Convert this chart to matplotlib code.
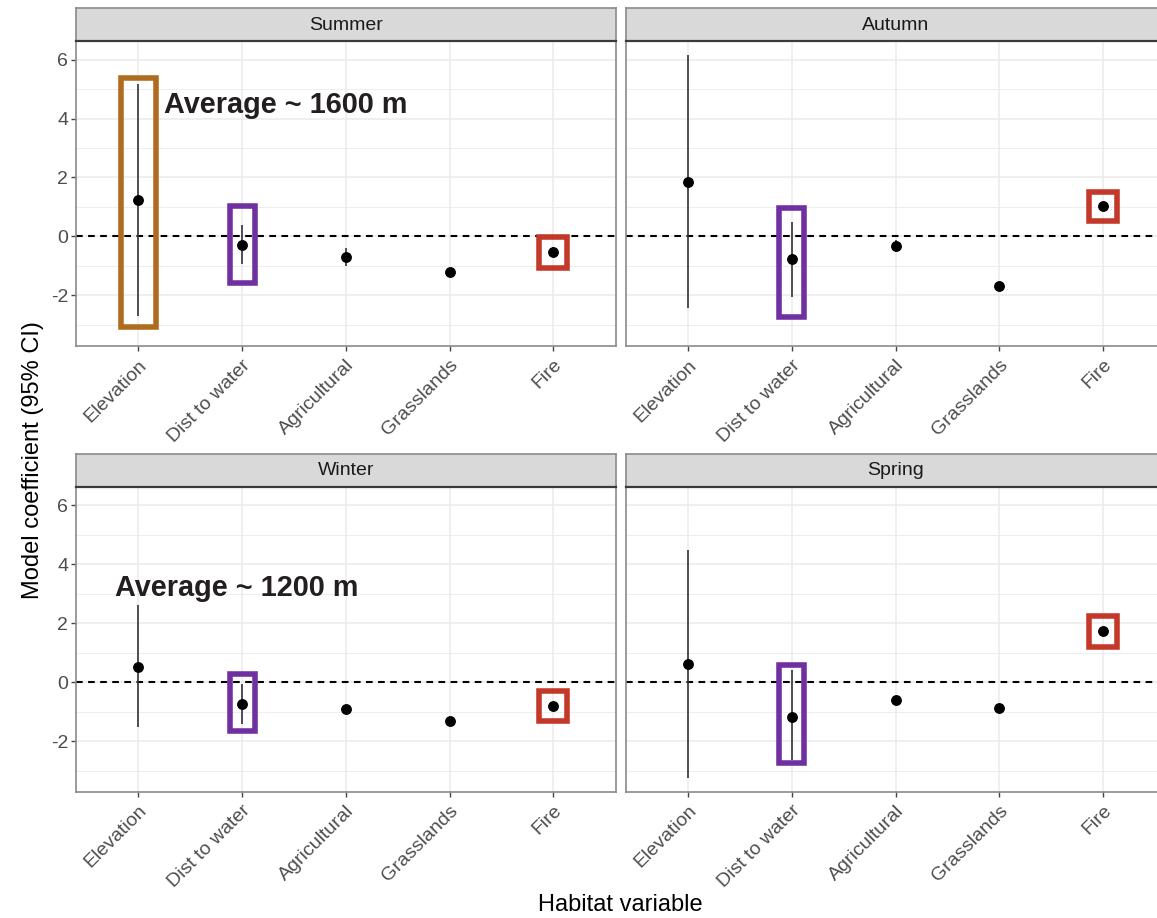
import matplotlib
matplotlib.use("Agg")
import matplotlib.pyplot as plt
from matplotlib.patches import Rectangle

plt.rcParams['font.family'] = ['Liberation Sans', 'DejaVu Sans']
plt.rcParams['axes.unicode_minus'] = False

# habitat variables (x axis) and seasons (facets)
categories = ['Elevation', 'Dist to water', 'Agricultural', 'Grasslands', 'Fire']
seasons = ['Summer', 'Autumn', 'Winter', 'Spring']

# model coefficients with 95% CI per season
summer_est = [1.23, -0.28, -0.71, -1.22, -0.54]
summer_lo = [-2.70, -0.94, -1.00, -1.27, -0.71]
summer_hi = [5.16, 0.37, -0.41, -1.17, -0.35]

autumn_est = [1.86, -0.78, -0.34, -1.68, 1.03]
autumn_lo = [-2.44, -2.07, -0.54, -1.73, 0.96]
autumn_hi = [6.17, 0.48, -0.12, -1.63, 1.10]

winter_est = [0.53, -0.74, -0.91, -1.32, -0.80]
winter_lo = [-1.52, -1.41, -0.96, -1.37, -0.86]
winter_hi = [2.61, -0.07, -0.86, -1.27, -0.74]

spring_est = [0.61, -1.18, -0.59, -0.89, 1.72]
spring_lo = [-3.25, -2.63, -0.67, -0.94, 1.65]
spring_hi = [4.49, 0.41, -0.51, -0.84, 1.79]

est = {'Summer': summer_est, 'Autumn': autumn_est, 'Winter': winter_est, 'Spring': spring_est}
lo = {'Summer': summer_lo, 'Autumn': autumn_lo, 'Winter': winter_lo, 'Spring': spring_lo}
hi = {'Summer': summer_hi, 'Autumn': autumn_hi, 'Winter': winter_hi, 'Spring': spring_hi}

# highlight boxes: season, category index, y bottom, y top, half width
box_season = ['Summer', 'Summer', 'Summer', 'Autumn', 'Autumn', 'Winter', 'Winter', 'Spring', 'Spring']
box_cat = [0, 1, 4, 1, 4, 1, 4, 1, 4]
box_ylo = [-3.09, -1.59, -1.06, -2.75, 0.51, -1.66, -1.32, -2.73, 1.19]
box_yhi = [5.37, 1.03, -0.02, 0.95, 1.52, 0.27, -0.29, 0.57, 2.23]
box_hw = [0.171, 0.12, 0.135, 0.12, 0.135, 0.12, 0.135, 0.12, 0.135]
box_col = ['#B06C1E', '#7030A0', '#C4382A', '#7030A0', '#C4382A',
           '#7030A0', '#C4382A', '#7030A0', '#C4382A']

# text notes on elevation
note_season = ['Summer', 'Winter']
note_text = ['Average ~ 1600 m', 'Average ~ 1200 m']
note_x = [0.25, -0.22]
note_y = [4.20, 2.94]

W, H = 1157, 918
fig = plt.figure(figsize=(W / 100, H / 100), dpi=100)

# panel geometry in pixels: left, top of plot area
col_left = [76, 625.7]
row_top = [40.7, 486.5]
pw, ph, sh = 539.7, 305.3, 32.4

all_lo = min(min(v) for v in lo.values())
all_hi = max(max(v) for v in hi.values())
pad = 0.05 * (all_hi - all_lo)
ylim = (all_lo - pad, all_hi + pad)
xs = list(range(len(categories)))

border = '#8a8a8a'

for k, s in enumerate(seasons):
    r, c = divmod(k, 2)
    x0, y0 = col_left[c], row_top[r]
    ax = fig.add_axes([x0 / W, 1 - (y0 + ph) / H, pw / W, ph / H])
    ax.set_xlim(-0.6, len(categories) - 0.4)
    ax.set_ylim(*ylim)
    ax.set_yticks([-2, 0, 2, 4, 6])
    ax.set_yticks([-3, -1, 1, 3, 5], minor=True)
    ax.set_xticks(xs)
    ax.grid(which='major', color='#ebebeb', lw=1.1, zorder=0)
    ax.grid(which='minor', axis='y', color='#ebebeb', lw=0.6, zorder=0)
    ax.set_axisbelow(True)
    for sp in ax.spines.values():
        sp.set_color(border)
        sp.set_linewidth(1.2)
    ax.tick_params(axis='both', which='major', length=3.5, width=1.0, color='#444444',
                   labelcolor='#4d4d4d')
    ax.tick_params(axis='both', which='minor', length=0)
    ax.tick_params(axis='y', labelsize=14, pad=2)
    ax.set_xticklabels(categories, rotation=45, ha='right', va='top',
                       rotation_mode='anchor', fontsize=14)
    ax.tick_params(axis='x', pad=4)
    if c == 1:
        ax.tick_params(axis='y', left=False, labelleft=False)

    ax.axhline(0, color='black', lw=1.5, ls=(0, (3.2, 2.6)), zorder=2)
    ax.vlines(xs, lo[s], hi[s], color='#333333', lw=1.2, zorder=3)
    ax.plot(xs, est[s], 'o', color='black', ms=6.8, zorder=4)

    for bs, bc, bl, bh, hw, col in zip(box_season, box_cat, box_ylo, box_yhi, box_hw, box_col):
        if bs != s:
            continue
        ax.add_patch(Rectangle((bc - hw, bl), 2 * hw, bh - bl, fill=False,
                               edgecolor=col, lw=4.0, joinstyle='miter', zorder=5))

    for ns, nt, nx, ny in zip(note_season, note_text, note_x, note_y):
        if ns == s:
            ax.text(nx, ny, nt, fontsize=20.8, fontweight='bold', color='#231f20',
                    ha='left', va='baseline', zorder=6)

    # facet strip
    st = fig.add_axes([x0 / W, 1 - y0 / H, pw / W, sh / H])
    st.set_facecolor('#d9d9d9')
    st.set_xticks([])
    st.set_yticks([])
    for name, sp in st.spines.items():
        sp.set_color(border)
        sp.set_linewidth(1.2)
    st.spines['bottom'].set_color('#3a3a3a')
    st.spines['bottom'].set_linewidth(1.6)
    st.text(0.5, 0.48, s, transform=st.transAxes, ha='center', va='center',
            fontsize=14, color='#1a1a1a')

fig.text(33 / W, 1 - 460 / H, 'Model coefficient (95% CI)', rotation=90,
         ha='center', va='center', fontsize=17, color='black')
fig.text(620 / W, 1 - 905 / H, 'Habitat variable', ha='center', va='center',
         fontsize=17, color='black')

fig.savefig('out.png', dpi=100)
